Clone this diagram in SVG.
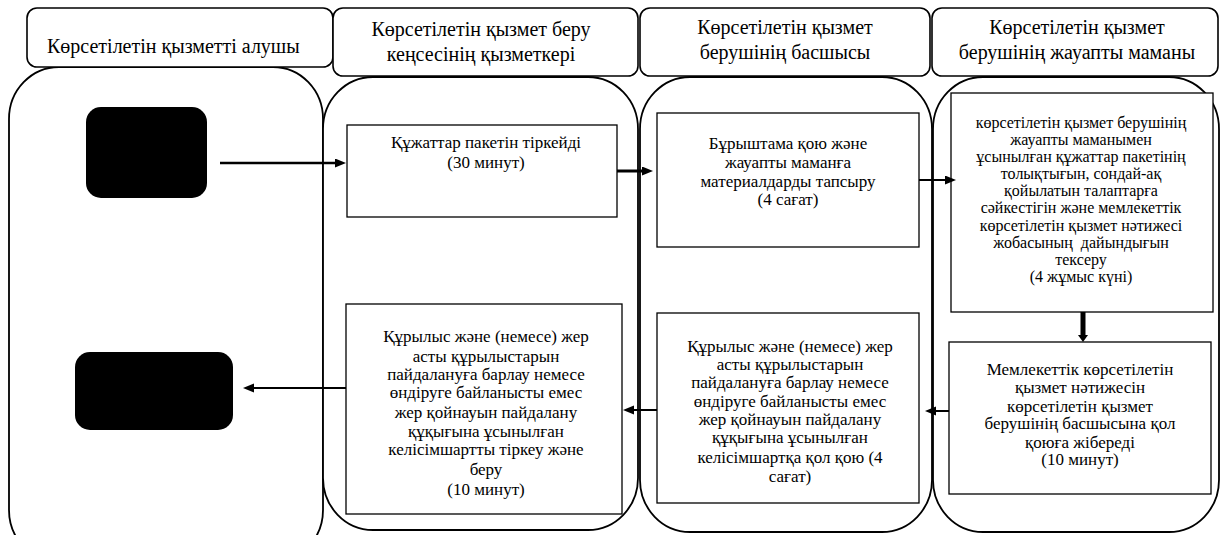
<svg xmlns="http://www.w3.org/2000/svg" width="1221" height="535" viewBox="0 0 1221 535">
<defs>
<marker id="ah" markerUnits="userSpaceOnUse" markerWidth="12" markerHeight="10" refX="0" refY="4.5" orient="auto">
<path d="M0,0 L11,4.5 L0,9 z" fill="#000"/>
</marker>
<marker id="ahs" markerUnits="userSpaceOnUse" markerWidth="14" markerHeight="12" refX="0" refY="5" orient="auto">
<path d="M0,0 L7,5 L0,10 z" fill="#000"/>
</marker>
</defs>
<rect width="1221" height="535" fill="#fff"/>
<g id="lane1"><rect x="9" y="67" width="314" height="495" rx="50" ry="52" fill="#fff" stroke="#000" stroke-width="1.8"/></g>
<g id="lane2"><rect x="323" y="77" width="315" height="453" rx="50" ry="52" fill="#fff" stroke="#000" stroke-width="1.8"/></g>
<g id="lane3"><rect x="640" y="77" width="292" height="455" rx="50" ry="52" fill="#fff" stroke="#000" stroke-width="1.8"/></g>
<g id="lane4"><rect x="933" y="77" width="286" height="455" rx="50" ry="52" fill="#fff" stroke="#000" stroke-width="1.8"/></g>
<g id="header1"><rect x="27" y="8" width="306" height="59" rx="10" fill="#fff" stroke="#000" stroke-width="1.6"/><text x="47" y="53" font-family="Liberation Serif" font-size="20">Көрсетілетін қызметті алушы</text></g>
<g id="header2"><rect x="333" y="8" width="305" height="68" rx="10" fill="#fff" stroke="#000" stroke-width="1.6"/><text x="481" y="36" font-family="Liberation Serif" font-size="20" text-anchor="middle">Көрсетілетін қызмет беру</text><text x="481" y="61" font-family="Liberation Serif" font-size="20" text-anchor="middle">кеңсесінің қызметкері</text></g>
<g id="header3"><rect x="640" y="8" width="290" height="68" rx="10" fill="#fff" stroke="#000" stroke-width="1.6"/><text x="785" y="34" font-family="Liberation Serif" font-size="20" text-anchor="middle">Көрсетілетін қызмет</text><text x="785" y="59" font-family="Liberation Serif" font-size="20" text-anchor="middle">берушінің басшысы</text></g>
<g id="header4"><rect x="932" y="8" width="286" height="68" rx="10" fill="#fff" stroke="#000" stroke-width="1.6"/><text x="1077" y="34" font-family="Liberation Serif" font-size="20" text-anchor="middle">Көрсетілетін қызмет</text><text x="1077" y="59" font-family="Liberation Serif" font-size="20" text-anchor="middle">берушінің жауапты маманы</text></g>
<g id="start"><rect x="86" y="107" width="121" height="91" rx="15" fill="#000"/></g>
<g id="end"><rect x="75" y="352" width="158" height="78" rx="15" fill="#000"/></g>
<g id="step1"><rect x="347" y="125" width="270" height="92" fill="#fff" stroke="#000" stroke-width="1.3"/>
<text x="486" y="148" font-family="Liberation Serif" font-size="17" text-anchor="middle">Құжаттар пакетін тіркейді</text>
<text x="486" y="168" font-family="Liberation Serif" font-size="17" text-anchor="middle">(30 минут)</text></g>
<g id="step2"><rect x="657" y="113" width="262" height="134" fill="#fff" stroke="#000" stroke-width="1.3"/>
<text x="788" y="149" font-family="Liberation Serif" font-size="17" text-anchor="middle">Бұрыштама қою және</text>
<text x="788" y="168" font-family="Liberation Serif" font-size="17" text-anchor="middle">жауапты маманға</text>
<text x="788" y="187" font-family="Liberation Serif" font-size="17" text-anchor="middle">материалдарды тапсыру</text>
<text x="788" y="205" font-family="Liberation Serif" font-size="17" text-anchor="middle">(4 сағат)</text></g>
<g id="step3"><rect x="951" y="93" width="262" height="219" fill="#fff" stroke="#000" stroke-width="1.3"/>
<text x="1081" y="128" font-family="Liberation Serif" font-size="16" text-anchor="middle">көрсетілетін қызмет берушінің</text>
<text x="1081" y="145" font-family="Liberation Serif" font-size="16" text-anchor="middle">жауапты маманымен</text>
<text x="1081" y="162" font-family="Liberation Serif" font-size="16" text-anchor="middle">ұсынылған құжаттар пакетінің</text>
<text x="1081" y="179" font-family="Liberation Serif" font-size="16" text-anchor="middle">толықтығын, сондай-ақ</text>
<text x="1081" y="196" font-family="Liberation Serif" font-size="16" text-anchor="middle">қойылатын талаптарға</text>
<text x="1081" y="213" font-family="Liberation Serif" font-size="16" text-anchor="middle">сәйкестігін және мемлекеттік</text>
<text x="1081" y="231" font-family="Liberation Serif" font-size="16" text-anchor="middle">көрсетілетін қызмет нәтижесі</text>
<text x="1081" y="248" font-family="Liberation Serif" font-size="16" text-anchor="middle">жобасының&#160; дайындығын</text>
<text x="1081" y="265" font-family="Liberation Serif" font-size="16" text-anchor="middle">тексеру</text>
<text x="1081" y="282" font-family="Liberation Serif" font-size="16" text-anchor="middle">(4 жұмыс күні)</text></g>
<g id="step4"><rect x="949" y="342" width="262" height="152" fill="#fff" stroke="#000" stroke-width="1.3"/>
<text x="1080" y="375" font-family="Liberation Serif" font-size="17" text-anchor="middle">Мемлекеттік көрсетілетін</text>
<text x="1080" y="393" font-family="Liberation Serif" font-size="17" text-anchor="middle">қызмет нәтижесін</text>
<text x="1080" y="412" font-family="Liberation Serif" font-size="17" text-anchor="middle">көрсетілетін қызмет</text>
<text x="1080" y="429" font-family="Liberation Serif" font-size="17" text-anchor="middle">берушінің басшысына қол</text>
<text x="1080" y="448" font-family="Liberation Serif" font-size="17" text-anchor="middle">қоюға жібереді</text>
<text x="1080" y="465" font-family="Liberation Serif" font-size="17" text-anchor="middle">(10 минут)</text></g>
<g id="step5"><rect x="657" y="313" width="262" height="190" fill="#fff" stroke="#000" stroke-width="1.3"/>
<text x="790" y="352" font-family="Liberation Serif" font-size="17" text-anchor="middle">Құрылыс және (немесе) жер</text>
<text x="790" y="370" font-family="Liberation Serif" font-size="17" text-anchor="middle">асты құрылыстарын</text>
<text x="790" y="388" font-family="Liberation Serif" font-size="17" text-anchor="middle">пайдалануға барлау немесе</text>
<text x="790" y="407" font-family="Liberation Serif" font-size="17" text-anchor="middle">өндіруге байланысты емес</text>
<text x="790" y="425" font-family="Liberation Serif" font-size="17" text-anchor="middle">жер қойнауын пайдалану</text>
<text x="790" y="443" font-family="Liberation Serif" font-size="17" text-anchor="middle">құқығына ұсынылған</text>
<text x="790" y="463" font-family="Liberation Serif" font-size="17" text-anchor="middle">келісімшартқа қол қою (4</text>
<text x="790" y="482" font-family="Liberation Serif" font-size="17" text-anchor="middle">сағат)</text></g>
<g id="step6"><rect x="346" y="304" width="276" height="210" fill="#fff" stroke="#000" stroke-width="1.3"/>
<text x="486" y="342" font-family="Liberation Serif" font-size="17" text-anchor="middle">Құрылыс және (немесе) жер</text>
<text x="486" y="362" font-family="Liberation Serif" font-size="17" text-anchor="middle">асты құрылыстарын</text>
<text x="486" y="380" font-family="Liberation Serif" font-size="17" text-anchor="middle">пайдалануға барлау немесе</text>
<text x="486" y="398" font-family="Liberation Serif" font-size="17" text-anchor="middle">өндіруге байланысты емес</text>
<text x="486" y="418" font-family="Liberation Serif" font-size="17" text-anchor="middle">жер қойнауын пайдалану</text>
<text x="486" y="437" font-family="Liberation Serif" font-size="17" text-anchor="middle">құқығына ұсынылған</text>
<text x="486" y="455" font-family="Liberation Serif" font-size="17" text-anchor="middle">келісімшартты тіркеу және</text>
<text x="486" y="475" font-family="Liberation Serif" font-size="17" text-anchor="middle">беру</text>
<text x="486" y="495" font-family="Liberation Serif" font-size="17" text-anchor="middle">(10 минут)</text></g>
<g id="connectors" stroke="#000" fill="none">
<line x1="220" y1="163" x2="335" y2="163" stroke-width="2.5" marker-end="url(#ah)"/>
<line x1="617" y1="171" x2="642" y2="171" stroke-width="3" marker-end="url(#ah)"/>
<line x1="919" y1="180" x2="945" y2="180" stroke-width="2" marker-end="url(#ah)"/>
<line x1="1083" y1="312" x2="1083" y2="335" stroke-width="5" marker-end="url(#ahs)"/>
<line x1="949" y1="411" x2="936" y2="411" stroke-width="2" marker-end="url(#ah)"/>
<line x1="657" y1="410" x2="634" y2="410" stroke-width="2" marker-end="url(#ah)"/>
<line x1="346" y1="388" x2="254" y2="388" stroke-width="2" marker-end="url(#ah)"/>
</g>
</svg>
